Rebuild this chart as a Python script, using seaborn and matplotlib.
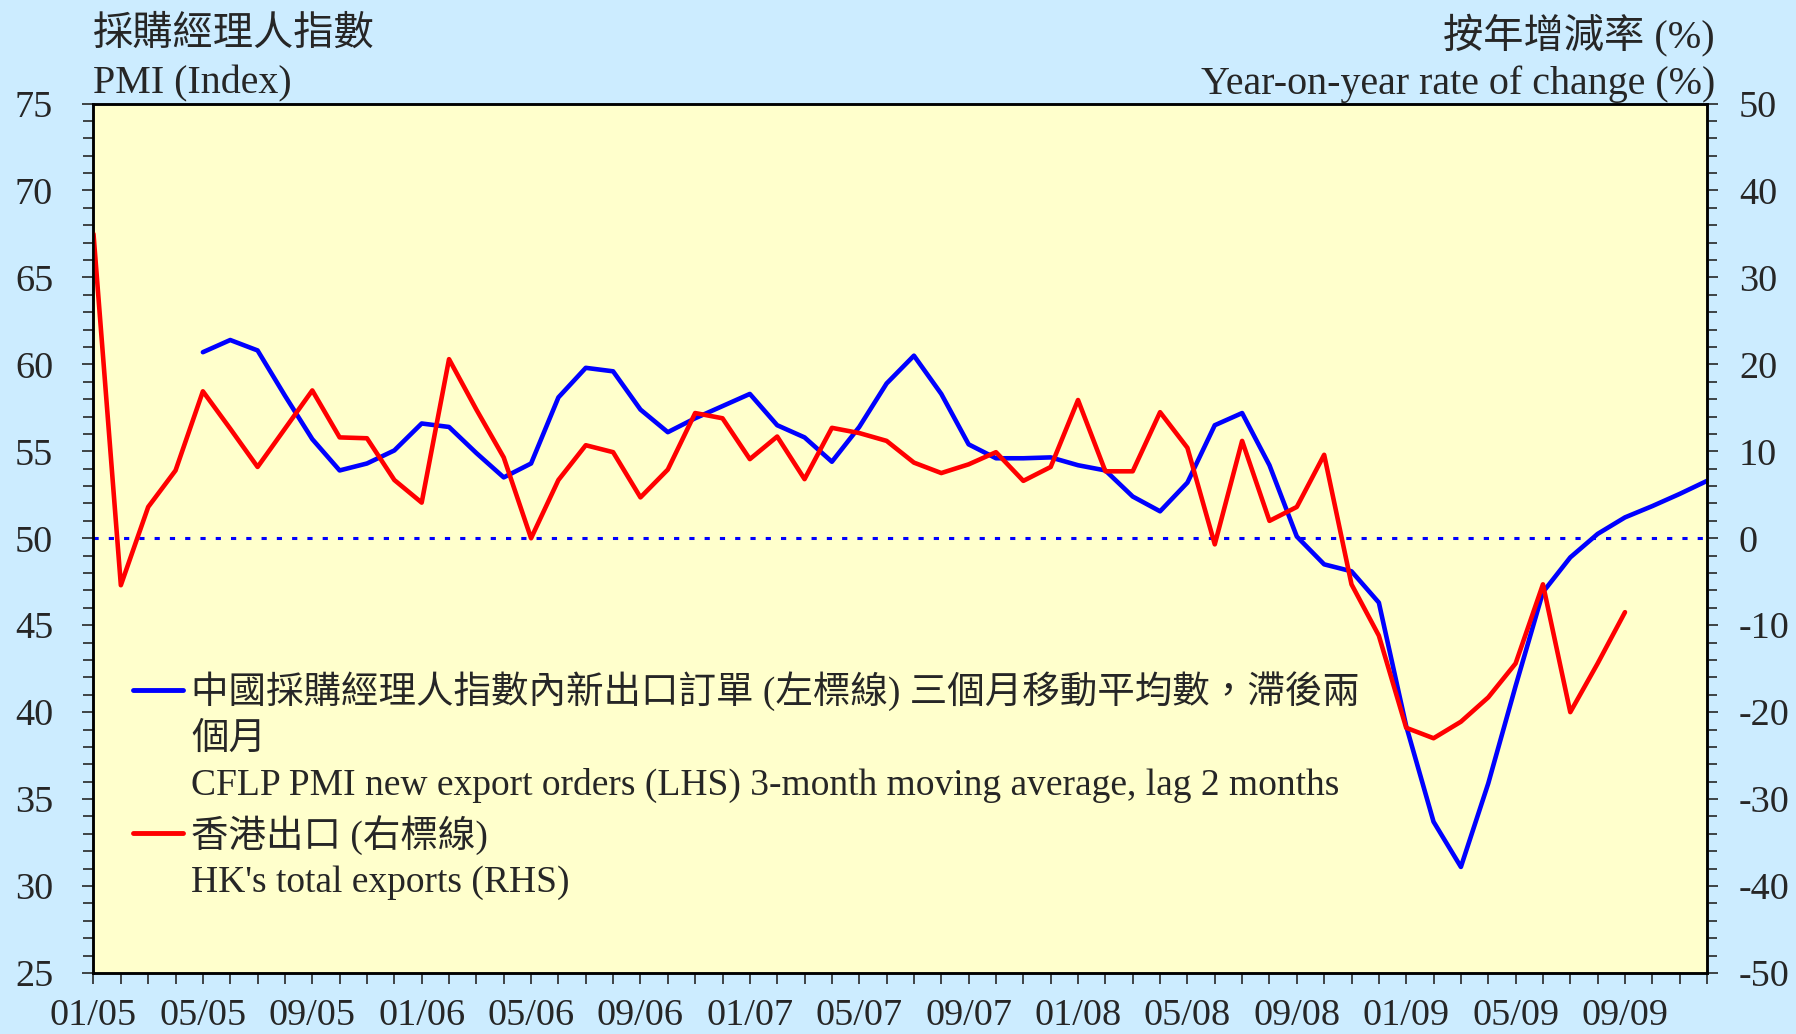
import numpy as np
import pandas as pd
import matplotlib
matplotlib.use('Agg')
import matplotlib.pyplot as plt
from matplotlib.lines import Line2D
from matplotlib.ticker import MultipleLocator
import seaborn as sns

# month axis, 01/05 .. 12/09
months = pd.date_range('2005-01-01', '2009-12-01', freq='MS')
tick_labels = ['01/05', '05/05', '09/05', '01/06', '05/06', '09/06', '01/07',
               '05/07', '09/07', '01/08', '05/08', '09/08', '01/09', '05/09', '09/09']

# CFLP PMI new export orders, 3-month moving average lagged 2 months (05/05 .. 12/09)
pmi_start = 4
pmi_values = [60.7, 61.4, 60.8, 58.2, 55.7, 53.9, 54.3, 55.05, 56.6, 56.4,
              54.9, 53.5, 54.3, 58.1, 59.8, 59.6, 57.4, 56.1, 56.9, 57.6,
              58.3, 56.5, 55.8, 54.4, 56.4, 58.9, 60.5, 58.3, 55.4, 54.6,
              54.6, 54.65, 54.2, 53.9, 52.4, 51.55, 53.2, 56.5, 57.2, 54.2,
              50.1, 48.5, 48.1, 46.3, 39.2, 33.7, 31.1, 35.9, 41.5, 46.9,
              48.9, 50.25, 51.2, 51.85, 52.55, 53.3]

# HK total exports, yoy % (01/05 .. 09/09)
hk_values = [35.0, -5.4, 3.6, 7.8, 16.9, 12.6, 8.2, 12.6, 17.0, 11.6,
             11.5, 6.7, 4.1, 20.6, 14.8, 9.3, 0.0, 6.7, 10.7, 9.9,
             4.7, 7.9, 14.4, 13.8, 9.1, 11.7, 6.8, 12.7, 12.1, 11.2,
             8.7, 7.5, 8.5, 9.9, 6.6, 8.2, 15.9, 7.7, 7.7, 14.5,
             10.4, -0.7, 11.2, 2.0, 3.6, 9.6, -5.3, -11.2, -21.8, -23.0,
             -21.1, -18.3, -14.4, -5.3, -20.0, -14.4, -8.5]

pmi_df = pd.DataFrame({'m': np.arange(pmi_start, pmi_start + len(pmi_values)),
                       'v': pmi_values})
hk_df = pd.DataFrame({'m': np.arange(len(hk_values)), 'v': hk_values})

sns.set_style('ticks')
plt.rcParams['font.family'] = ['Liberation Serif', 'Noto Sans CJK TC']
plt.rcParams['axes.unicode_minus'] = False

BG = '#CCECFF'
PLOT_BG = '#FFFFCC'

fig = plt.figure(figsize=(17.96, 10.34), dpi=100, facecolor=BG)
ax = fig.add_axes([0.05206, 0.05899, 0.8984, 0.8409])
ax.set_facecolor(PLOT_BG)
ax2 = ax.twinx()

ax.axhline(50, color='#0000FF', lw=2.2, linestyle=(0, (1.7, 3.3)), zorder=1)
sns.lineplot(data=pmi_df, x='m', y='v', ax=ax, color='#0000FF', lw=3.3, legend=False)
sns.lineplot(data=hk_df, x='m', y='v', ax=ax2, color='#FF0000', lw=3.3, legend=False)

ax.set_xlim(0, len(months) - 1)
ax.set_ylim(25, 75)
ax2.set_ylim(-50, 50)
for a in (ax, ax2):
    a.set_xlabel('')
    a.set_ylabel('')
    for s in a.spines.values():
        s.set_linewidth(1.8)
        s.set_color('black')

ax.set_xticks(np.arange(0, len(months), 4), tick_labels)
ax.xaxis.set_minor_locator(MultipleLocator(1))
ax.yaxis.set_major_locator(MultipleLocator(5))
ax.yaxis.set_minor_locator(MultipleLocator(1))
ax2.yaxis.set_major_locator(MultipleLocator(10))
ax2.yaxis.set_minor_locator(MultipleLocator(2))

ax.tick_params(axis='y', which='major', length=8, width=1.2, pad=21, labelsize=27.5)
ax.tick_params(axis='y', which='minor', length=7, width=1.2)
ax.tick_params(axis='x', which='both', length=8, width=1.2, pad=10, labelsize=27.5)
ax2.tick_params(axis='y', which='major', length=8, width=1.2, pad=15, labelsize=27.5)
ax2.tick_params(axis='y', which='minor', length=7, width=1.2)

fig.text(0.0518, 1 - 35 / 1034, '採購經理人指數', fontsize=29, ha='left', va='center')
fig.text(0.0518, 1 - 84 / 1034, 'PMI (Index)', fontsize=28.8, ha='left', va='center')
fig.text(0.9548, 1 - 35 / 1034, '按年增減率 (%)', fontsize=29, ha='right', va='center')
fig.text(0.9548, 1 - 84 / 1034, 'Year-on-year rate of change (%)', fontsize=28.8,
         ha='right', va='center')

blank = Line2D([], [], color='none')
handles = [Line2D([], [], color='#0000FF', lw=3.5), blank, blank,
           Line2D([], [], color='#FF0000', lw=3.5), blank]
labels = ['中國採購經理人指數內新出口訂單 (左標線) 三個月移動平均數，滯後兩',
          '個月',
          'CFLP PMI new export orders (LHS) 3-month moving average, lag 2 months',
          '香港出口 (右標線)',
          "HK's total exports (RHS)"]
ax2.legend(handles, labels, loc='upper left', bbox_to_anchor=(0.0245, 0.347),
           frameon=False, fontsize=27, handlelength=1.34, handletextpad=0.21,
           labelspacing=0.3, borderpad=0, borderaxespad=0)

fig.savefig('out.png', dpi=100, facecolor=fig.get_facecolor())
